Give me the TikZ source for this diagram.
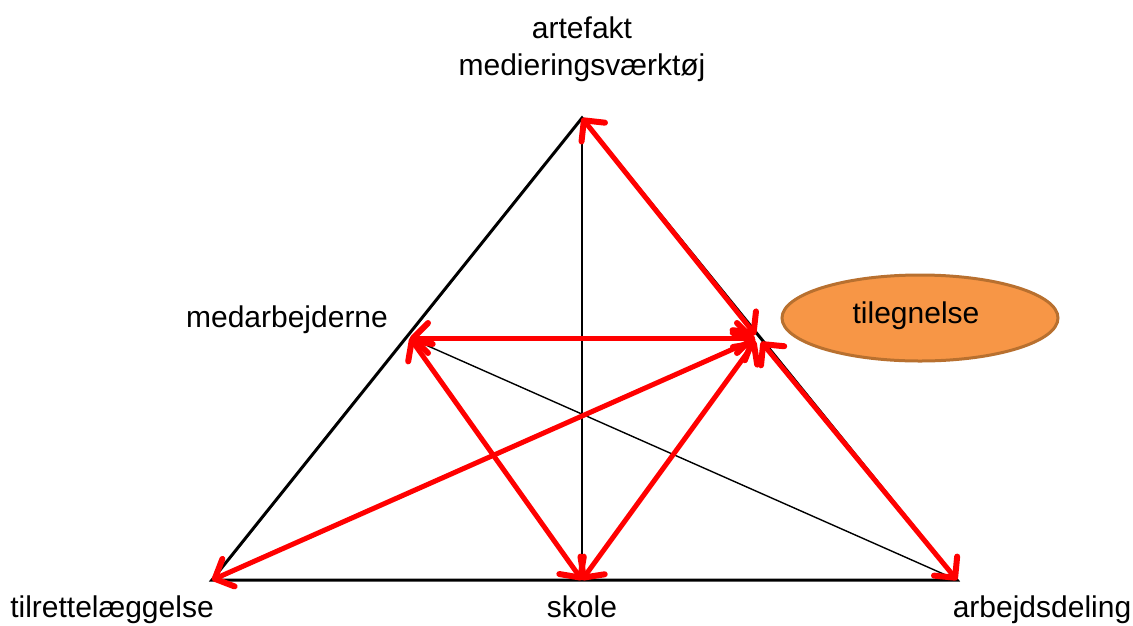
\documentclass[tikz,border=0pt]{standalone}
\usepackage{fontspec}
\setmainfont{Liberation Sans}
\usetikzlibrary{arrows.meta,shapes.geometric}
\definecolor{tilorange}{HTML}{F79646}
\definecolor{tilborder}{HTML}{B8702F}
\tikzset{
  side/.style={draw=black, line width=3pt, line join=miter},
  inner/.style={draw=black, line width=1.4pt},
  barb/.tip={Straight Barb[length=15pt,width=30pt,line width=0pt 1.2,round]},
  relation/.style={draw=red, line width=5pt, barb-barb},
  label/.style={anchor=base, inner sep=0pt, font=\fontsize{30}{36}\selectfont},
}
\begin{document}
\begin{tikzpicture}[x=1pt, y=-1pt]
\useasboundingbox (0,0) rectangle (1133,625);

% corners and side points of the triangle
\coordinate (T) at (582,118);
\coordinate (BL) at (212,580);
\coordinate (BR) at (957,580);
\coordinate (BM) at (582,580);
\coordinate (ML) at (410,338);
\coordinate (MR) at (758,338);

% triangle and its inner lines
\draw[inner] (T) -- (BM);
\draw[inner] (ML) -- (BR);
\draw[side] (T) -- (BL) -- (BR) -- cycle;

% relations
\draw[relation, shorten >=4pt] (T) -- (MR);
\draw[relation, shorten <=5pt] (MR) -- (BR);
\draw[relation, shorten >=3pt] (ML) -- (MR);
\draw[relation] (ML) -- (BM);
\draw[relation, shorten <=4pt] (MR) -- (BM);
\draw[relation, shorten <=3pt] (MR) -- (BL);

% labels
\node[label] (art) at (582,38) {artefakt};
\node[label] (med) at (582,75) {medieringsværktøj};
\node[label] (mab) at (287,327) {medarbejderne};
\node[label] (til) at (112,617) {tilrettelæggelse};
\node[label] (sko) at (582,617) {skole};
\node[label] (arb) at (1042,617) {arbejdsdeling};

% highlighted concept
\node[ellipse, draw=tilborder, line width=3pt, fill=tilorange,
      minimum width=276pt, minimum height=86pt, inner sep=0pt] (teg) at (920,318) {};
\node[label] (tegtxt) at (916,323) {tilegnelse};
\end{tikzpicture}
\end{document}
